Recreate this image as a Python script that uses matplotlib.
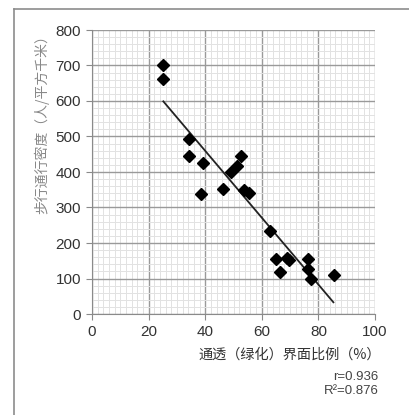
import matplotlib
matplotlib.use("Agg")
import matplotlib.pyplot as plt
from matplotlib.ticker import MultipleLocator
from matplotlib.lines import Line2D

plt.rcParams['font.family'] = ['Liberation Sans', 'Noto Sans CJK SC', 'DejaVu Sans']
CJK = ['Noto Sans CJK SC', 'DejaVu Sans']

# Data
green_ratio = [25.0, 25.2, 34.2, 34.4, 39.3, 38.4, 46.4, 49.1, 51.4, 52.5, 53.7,
               55.6, 62.9, 65.0, 66.4, 68.8, 69.7, 76.2, 76.3, 77.4, 85.4]
density = [701, 661, 492, 446, 425, 339, 352, 400, 416, 446, 350,
           341, 233, 156, 119, 159, 153, 155, 126, 98, 111]
trend_x = [25.2, 85.3]
trend_y = [599, 33]

x_ticks = [0, 20, 40, 60, 80, 100]
y_ticks = [0, 100, 200, 300, 400, 500, 600, 700, 800]

fig = plt.figure(figsize=(4.09, 4.15), dpi=100)
# outer frame: left and top edges only
fx, fy = 13.5 / 409, 1 - 9.5 / 415
fig.add_artist(Line2D([fx, fx], [0, fy], transform=fig.transFigure,
                      color='#8c8c8c', linewidth=1.2))
fig.add_artist(Line2D([fx, 1], [fy, fy], transform=fig.transFigure,
                      color='#8c8c8c', linewidth=1.2))

ax = fig.add_axes([92 / 409, 1 - 314 / 415, (375 - 92) / 409, (314 - 30) / 415])
ax.set_xlim(0, 100)
ax.set_ylim(0, 800)
ax.set_xticks(x_ticks)
ax.set_yticks(y_ticks)
ax.xaxis.set_minor_locator(MultipleLocator(2))
ax.yaxis.set_minor_locator(MultipleLocator(20))
ax.grid(which='minor', color='#e2e2e2', linewidth=0.7)
ax.grid(which='major', color='#9a9a9a', linewidth=1.0)
ax.set_axisbelow(True)
for s in ['top', 'right']:
    ax.spines[s].set_visible(False)
for s in ['left', 'bottom']:
    ax.spines[s].set_color('#8a8a8a')
ax.tick_params(which='major', length=4, color='#8a8a8a', labelsize=11,
               labelcolor='#333333', pad=4)
ax.tick_params(which='minor', length=0)

ax.plot(trend_x, trend_y, color='#222222', linewidth=1.3, zorder=3)
ax.plot(green_ratio, density, linestyle='none', marker='D', markersize=6.5,
        color='black', zorder=4)

fig.text(381 / 409, 1 - 355 / 415, '通透（绿化）界面比例（%）', ha='right', va='center',
         fontsize=10.2, color='#333333', family=CJK)
fig.text(42 / 409, 1 - 28 / 415, '步行通行密度（人/平方千米）', ha='center', va='top',
         rotation=90, fontsize=10, color='#888888', family=CJK)

fig.text(378 / 409, 1 - 377 / 415, 'r=0.936', ha='right', va='center',
         fontsize=9.5, color='#444444')
fig.text(379 / 409, 1 - 391 / 415, 'R²=0.876', ha='right', va='center',
         fontsize=9.5, color='#444444')

fig.savefig('out.png', dpi=100)
